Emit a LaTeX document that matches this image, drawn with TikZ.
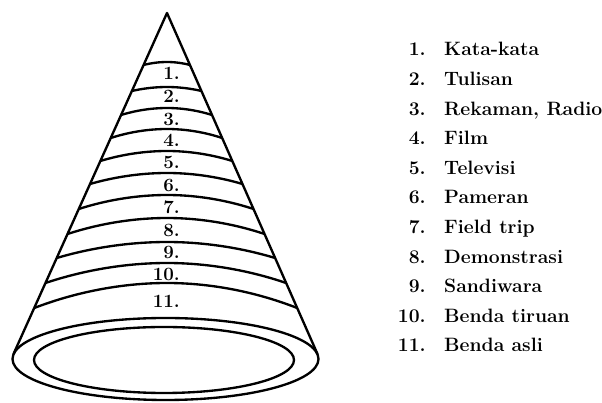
\documentclass[tikz,border=0pt]{standalone}
\usepackage{tikz}
\usetikzlibrary{calc,positioning}

\begin{document}
\begin{tikzpicture}[x=0.03cm,y=-0.03cm,
    cone/.style={line width=2pt,line join=round},
    band/.style={line width=2pt},
    lvl/.style={font=\fontsize{16}{18}\selectfont\bfseries,inner sep=0pt,anchor=base east},
    lnum/.style={font=\fontsize{16.5}{19}\selectfont\bfseries,inner sep=0pt,anchor=base east},
    ltxt/.style={font=\fontsize{16.5}{19}\selectfont\bfseries,inner sep=0pt,anchor=base west}]
  \useasboundingbox (0,0) rectangle (602,403);
  \coordinate (apex) at (167,13);
  \coordinate (bl) at (13.5,354);
  \coordinate (br) at (317.5,354);
  % cone and its open base
  \draw[cone] (bl) -- (apex) -- (br);
  \draw[cone] (165.5,359) ellipse[x radius=153,y radius=41];
  \draw[cone] (164,360) ellipse[x radius=130,y radius=33];
  % bands (centre y / end y)
  \foreach \yc/\ye in {62/65,87/91,108/115,129/138,151/161,173/184,195/209,218/234,242/258,263/283,283/308}{
    \pgfmathsetmacro{\t}{(\ye-13)/341}
    \draw[band] ($(apex)!\t!(bl)$) parabola bend (167,\yc) ($(apex)!\t!(br)$);
  }
  % level numbers
  \foreach \i/\yb in {1/80,2/103,3/126,4/147,5/169,6/192,7/214,8/237,9/259,10/281,11/308}
    \node[lvl] (lv\i) at (180,\yb) {\i.};
  % legend
  \foreach \i/\txt in {1/Kata-kata,2/Tulisan,3/{Rekaman, Radio},4/Film,5/Televisi,6/Pameran,
      7/Field trip,8/Demonstrasi,9/Sandiwara,10/Benda tiruan,11/Benda asli}{
    \node[lnum] (n\i) at (426,{56+29.6*(\i-1)}) {\i.};
    \node[ltxt] (t\i) at (444,{56+29.6*(\i-1)}) {\txt};
  }
\end{tikzpicture}
\end{document}
